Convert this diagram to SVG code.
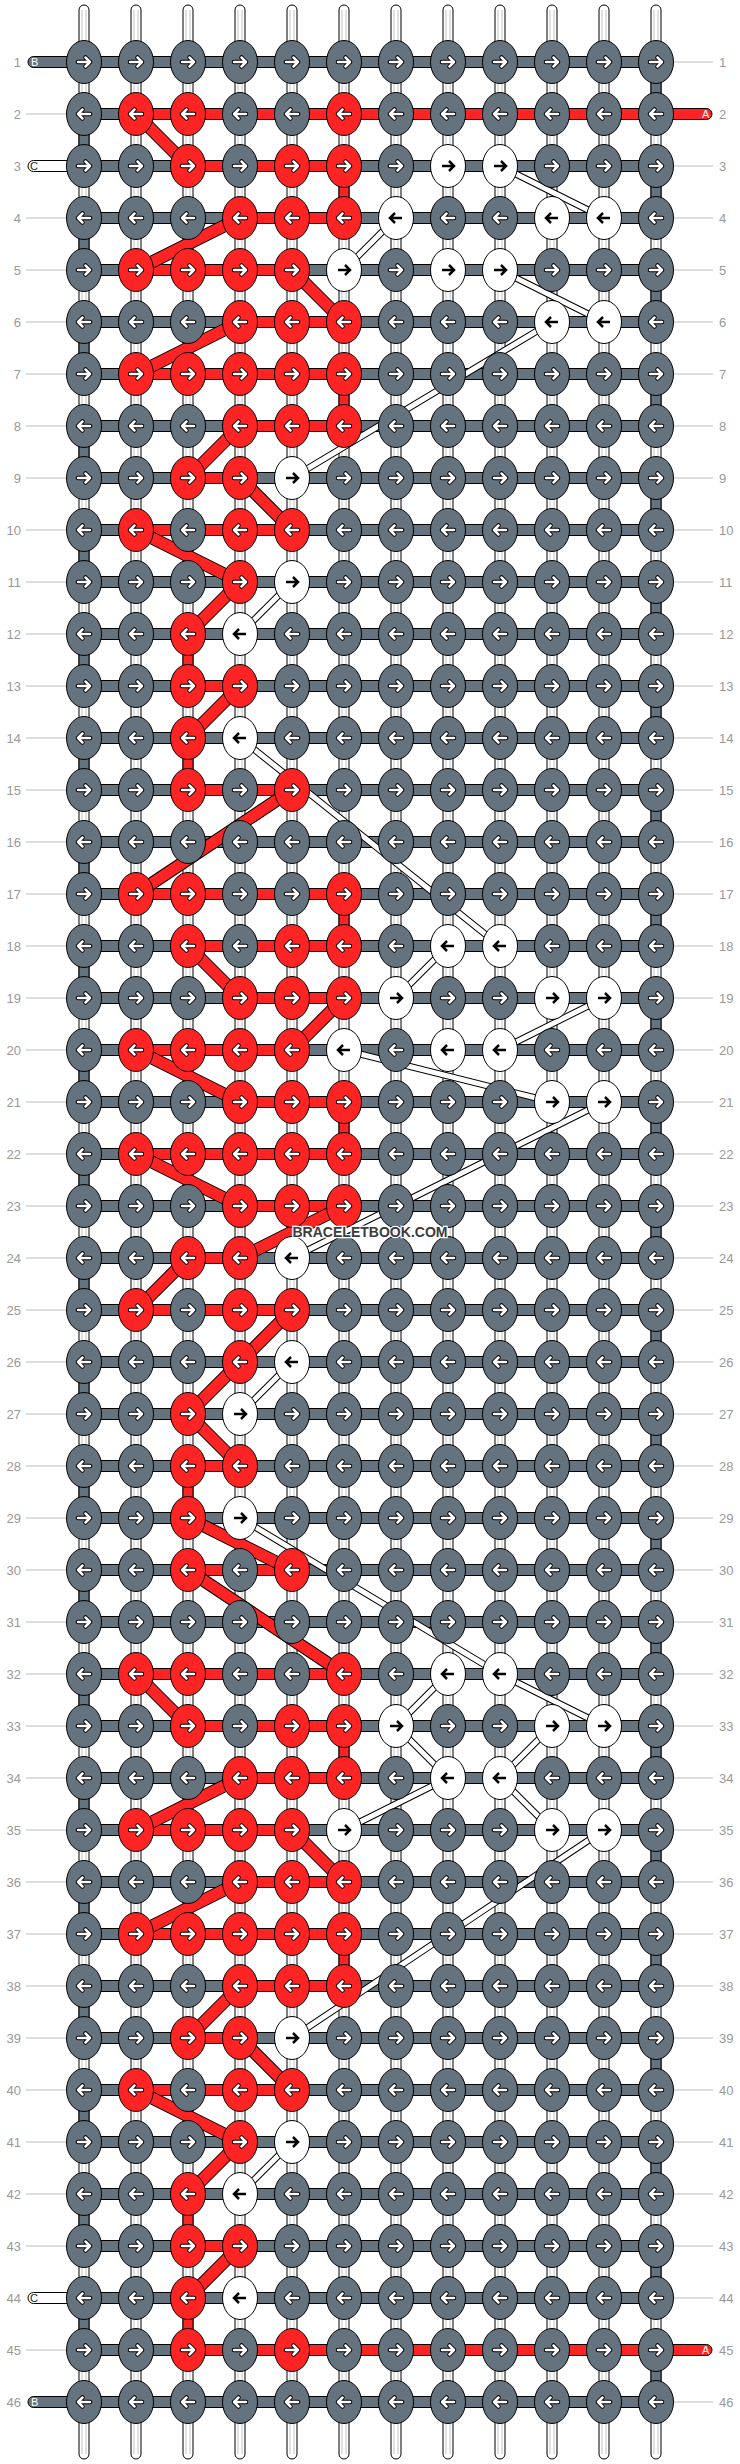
<svg xmlns="http://www.w3.org/2000/svg" xmlns:xlink="http://www.w3.org/1999/xlink" width="740" height="2464" viewBox="0 0 740 2464">
<style>
.g{fill:#65737e;stroke:#000;stroke-width:1}
.r{fill:#ff2424;stroke:#000;stroke-width:1}
.w{fill:#fff;stroke:#000;stroke-width:1}
.tube{fill:#fff;stroke:#000;stroke-width:1}
.tl{stroke:#c4c4c4;stroke-width:1}
.ll{stroke:#bbb;stroke-width:1}
.lab{font-family:"Liberation Sans",Arial,sans-serif;font-size:13px;fill:#999}
.lt{font-family:"Liberation Sans",Arial,sans-serif;font-size:11px}
.dro{fill:none;stroke:#000;stroke-width:13}
.dr{fill:none;stroke:#ff2424;stroke-width:11}
.dwo{fill:none;stroke:#000;stroke-width:7}
.dw{fill:none;stroke:#fff;stroke-width:5}
</style>
<defs>
<g id="aw"><path d="M-6,0H6M1.5,-4.5L6,0L1.5,4.5" fill="none" stroke="#000" stroke-width="4.5" stroke-linecap="round" stroke-linejoin="round"/><path d="M-6,0H6M1.5,-4.5L6,0L1.5,4.5" fill="none" stroke="#fff" stroke-width="2.5" stroke-linecap="round" stroke-linejoin="round"/></g>
<path id="ab" d="M-6,0H6M1,-5L6,0L1,5" fill="none" stroke="#000" stroke-width="2.5"/>
<g id="GR"><ellipse rx="17.5" ry="21.5" class="g"/><use href="#aw"/></g>
<g id="GL"><ellipse rx="17.5" ry="21.5" class="g"/><use href="#aw" transform="scale(-1,1)"/></g>
<g id="RR"><ellipse rx="17.5" ry="21.5" class="r"/><use href="#aw"/></g>
<g id="RL"><ellipse rx="17.5" ry="21.5" class="r"/><use href="#aw" transform="scale(-1,1)"/></g>
<g id="WR"><ellipse rx="17.5" ry="21.5" class="w"/><use href="#ab"/></g>
<g id="WL"><ellipse rx="17.5" ry="21.5" class="w"/><use href="#ab" transform="scale(-1,1)"/></g>
<path id="rdp" d="M136,114L188,166M240,218L136,270M292,270L344,322M240,322L136,374M240,426L188,478M240,478L292,530M136,530L240,582M240,582L188,634M240,686L188,738M292,790L136,894M188,946L240,998M344,998L292,1050M136,1050L240,1102M136,1154L240,1206M344,1206L240,1258M188,1258L136,1310M292,1310L188,1414M188,1414L240,1466M188,1518L292,1570M188,1570L344,1674M136,1674L188,1726M240,1778L136,1830M292,1830L344,1882M240,1882L136,1934M240,1986L188,2038M240,2038L292,2090M136,2090L240,2142M240,2142L188,2194M240,2246L188,2298"/>
<path id="wdp" d="M500,166L604,218M396,218L344,270M500,270L604,322M552,322L292,478M292,582L240,634M240,738L500,946M448,946L396,998M604,998L500,1050M344,1050L552,1102M604,1102L292,1258M292,1362L240,1414M240,1518L500,1674M448,1674L396,1726M500,1674L604,1726M396,1726L448,1778M552,1726L500,1778M448,1778L344,1830M500,1778L552,1830M604,1830L292,2038M292,2142L240,2194"/>
</defs>
<rect width="740" height="2464" fill="#fff"/>
<g id="warps">
<rect class="tube" x="79" y="5" width="10" height="2454" rx="5"/>
<rect class="tube" x="131" y="5" width="10" height="2454" rx="5"/>
<rect class="tube" x="183" y="5" width="10" height="2454" rx="5"/>
<rect class="tube" x="235" y="5" width="10" height="2454" rx="5"/>
<rect class="tube" x="287" y="5" width="10" height="2454" rx="5"/>
<rect class="tube" x="339" y="5" width="10" height="2454" rx="5"/>
<rect class="tube" x="391" y="5" width="10" height="2454" rx="5"/>
<rect class="tube" x="443" y="5" width="10" height="2454" rx="5"/>
<rect class="tube" x="495" y="5" width="10" height="2454" rx="5"/>
<rect class="tube" x="547" y="5" width="10" height="2454" rx="5"/>
<rect class="tube" x="599" y="5" width="10" height="2454" rx="5"/>
<rect class="tube" x="651" y="5" width="10" height="2454" rx="5"/>
<path class="tl" d="M82,10V2454M86,10V2454M134,10V2454M138,10V2454M186,10V2454M190,10V2454M238,10V2454M242,10V2454M290,10V2454M294,10V2454M342,10V2454M346,10V2454M394,10V2454M398,10V2454M446,10V2454M450,10V2454M498,10V2454M502,10V2454M550,10V2454M554,10V2454M602,10V2454M606,10V2454M654,10V2454M658,10V2454"/>
</g>
<g id="labels">
<path class="ll" d="M26,114H66M26,218H66M26,270H66M26,322H66M26,374H66M26,426H66M26,478H66M26,530H66M26,582H66M26,634H66M26,686H66M26,738H66M26,790H66M26,842H66M26,894H66M26,946H66M26,998H66M26,1050H66M26,1102H66M26,1154H66M26,1206H66M26,1258H66M26,1310H66M26,1362H66M26,1414H66M26,1466H66M26,1518H66M26,1570H66M26,1622H66M26,1674H66M26,1726H66M26,1778H66M26,1830H66M26,1882H66M26,1934H66M26,1986H66M26,2038H66M26,2090H66M26,2142H66M26,2194H66M26,2246H66M26,2350H66"/>
<path class="ll" d="M674,62H713M674,166H713M674,218H713M674,270H713M674,322H713M674,374H713M674,426H713M674,478H713M674,530H713M674,582H713M674,634H713M674,686H713M674,738H713M674,790H713M674,842H713M674,894H713M674,946H713M674,998H713M674,1050H713M674,1102H713M674,1154H713M674,1206H713M674,1258H713M674,1310H713M674,1362H713M674,1414H713M674,1466H713M674,1518H713M674,1570H713M674,1622H713M674,1674H713M674,1726H713M674,1778H713M674,1830H713M674,1882H713M674,1934H713M674,1986H713M674,2038H713M674,2090H713M674,2142H713M674,2194H713M674,2246H713M674,2298H713M674,2402H713"/>
<g class="lab" text-anchor="end">
<text x="21" y="66.5">1</text><text x="21" y="118.5">2</text><text x="21" y="170.5">3</text><text x="21" y="222.5">4</text><text x="21" y="274.5">5</text><text x="21" y="326.5">6</text><text x="21" y="378.5">7</text><text x="21" y="430.5">8</text><text x="21" y="482.5">9</text><text x="21" y="534.5">10</text><text x="21" y="586.5">11</text><text x="21" y="638.5">12</text><text x="21" y="690.5">13</text><text x="21" y="742.5">14</text><text x="21" y="794.5">15</text><text x="21" y="846.5">16</text><text x="21" y="898.5">17</text><text x="21" y="950.5">18</text><text x="21" y="1002.5">19</text><text x="21" y="1054.5">20</text><text x="21" y="1106.5">21</text><text x="21" y="1158.5">22</text><text x="21" y="1210.5">23</text><text x="21" y="1262.5">24</text><text x="21" y="1314.5">25</text><text x="21" y="1366.5">26</text><text x="21" y="1418.5">27</text><text x="21" y="1470.5">28</text><text x="21" y="1522.5">29</text><text x="21" y="1574.5">30</text><text x="21" y="1626.5">31</text><text x="21" y="1678.5">32</text><text x="21" y="1730.5">33</text><text x="21" y="1782.5">34</text><text x="21" y="1834.5">35</text><text x="21" y="1886.5">36</text><text x="21" y="1938.5">37</text><text x="21" y="1990.5">38</text><text x="21" y="2042.5">39</text><text x="21" y="2094.5">40</text><text x="21" y="2146.5">41</text><text x="21" y="2198.5">42</text><text x="21" y="2250.5">43</text><text x="21" y="2302.5">44</text><text x="21" y="2354.5">45</text><text x="21" y="2406.5">46</text>
</g>
<g class="lab">
<text x="719" y="66.5">1</text><text x="719" y="118.5">2</text><text x="719" y="170.5">3</text><text x="719" y="222.5">4</text><text x="719" y="274.5">5</text><text x="719" y="326.5">6</text><text x="719" y="378.5">7</text><text x="719" y="430.5">8</text><text x="719" y="482.5">9</text><text x="719" y="534.5">10</text><text x="719" y="586.5">11</text><text x="719" y="638.5">12</text><text x="719" y="690.5">13</text><text x="719" y="742.5">14</text><text x="719" y="794.5">15</text><text x="719" y="846.5">16</text><text x="719" y="898.5">17</text><text x="719" y="950.5">18</text><text x="719" y="1002.5">19</text><text x="719" y="1054.5">20</text><text x="719" y="1106.5">21</text><text x="719" y="1158.5">22</text><text x="719" y="1210.5">23</text><text x="719" y="1262.5">24</text><text x="719" y="1314.5">25</text><text x="719" y="1366.5">26</text><text x="719" y="1418.5">27</text><text x="719" y="1470.5">28</text><text x="719" y="1522.5">29</text><text x="719" y="1574.5">30</text><text x="719" y="1626.5">31</text><text x="719" y="1678.5">32</text><text x="719" y="1730.5">33</text><text x="719" y="1782.5">34</text><text x="719" y="1834.5">35</text><text x="719" y="1886.5">36</text><text x="719" y="1938.5">37</text><text x="719" y="1990.5">38</text><text x="719" y="2042.5">39</text><text x="719" y="2094.5">40</text><text x="719" y="2146.5">41</text><text x="719" y="2198.5">42</text><text x="719" y="2250.5">43</text><text x="719" y="2302.5">44</text><text x="719" y="2354.5">45</text><text x="719" y="2406.5">46</text>
</g>
</g>
<g id="connectors">
<g id="rowbars" class="g">
<rect x="84" y="56.5" width="572" height="11"/><rect x="84" y="108.5" width="572" height="11"/><rect x="84" y="160.5" width="572" height="11"/><rect x="84" y="212.5" width="572" height="11"/><rect x="84" y="264.5" width="572" height="11"/><rect x="84" y="316.5" width="572" height="11"/><rect x="84" y="368.5" width="572" height="11"/><rect x="84" y="420.5" width="572" height="11"/><rect x="84" y="472.5" width="572" height="11"/><rect x="84" y="524.5" width="572" height="11"/><rect x="84" y="576.5" width="572" height="11"/><rect x="84" y="628.5" width="572" height="11"/><rect x="84" y="680.5" width="572" height="11"/><rect x="84" y="732.5" width="572" height="11"/><rect x="84" y="784.5" width="572" height="11"/><rect x="84" y="836.5" width="572" height="11"/><rect x="84" y="888.5" width="572" height="11"/><rect x="84" y="940.5" width="572" height="11"/><rect x="84" y="992.5" width="572" height="11"/><rect x="84" y="1044.5" width="572" height="11"/><rect x="84" y="1096.5" width="572" height="11"/><rect x="84" y="1148.5" width="572" height="11"/><rect x="84" y="1200.5" width="572" height="11"/><rect x="84" y="1252.5" width="572" height="11"/><rect x="84" y="1304.5" width="572" height="11"/><rect x="84" y="1356.5" width="572" height="11"/><rect x="84" y="1408.5" width="572" height="11"/><rect x="84" y="1460.5" width="572" height="11"/><rect x="84" y="1512.5" width="572" height="11"/><rect x="84" y="1564.5" width="572" height="11"/><rect x="84" y="1616.5" width="572" height="11"/><rect x="84" y="1668.5" width="572" height="11"/><rect x="84" y="1720.5" width="572" height="11"/><rect x="84" y="1772.5" width="572" height="11"/><rect x="84" y="1824.5" width="572" height="11"/><rect x="84" y="1876.5" width="572" height="11"/><rect x="84" y="1928.5" width="572" height="11"/><rect x="84" y="1980.5" width="572" height="11"/><rect x="84" y="2032.5" width="572" height="11"/><rect x="84" y="2084.5" width="572" height="11"/><rect x="84" y="2136.5" width="572" height="11"/><rect x="84" y="2188.5" width="572" height="11"/><rect x="84" y="2240.5" width="572" height="11"/><rect x="84" y="2292.5" width="572" height="11"/><rect x="84" y="2344.5" width="572" height="11"/><rect x="84" y="2396.5" width="572" height="11"/>
<path d="M84,56.5H33.5A5.5,5.5 0 0 0 33.5,67.5H84Z"/>
<path d="M84,2396.5H33.5A5.5,5.5 0 0 0 33.5,2407.5H84Z"/>
</g>
<g class="w">
<path d="M84,160.5H33.5A5.5,5.5 0 0 0 33.5,171.5H84Z"/>
<path d="M84,2292.5H33.5A5.5,5.5 0 0 0 33.5,2303.5H84Z"/>
</g>
<g id="redbars" class="r">
<path d="M136,108.5H706.5A5.5,5.5 0 0 1 706.5,119.5H136Z"/>
<path d="M188,2344.5H706.5A5.5,5.5 0 0 1 706.5,2355.5H188Z"/>
<rect x="188" y="160.5" width="156" height="11"/><rect x="240" y="212.5" width="104" height="11"/><rect x="136" y="264.5" width="156" height="11"/><rect x="240" y="316.5" width="104" height="11"/><rect x="136" y="368.5" width="208" height="11"/><rect x="240" y="420.5" width="104" height="11"/><rect x="188" y="472.5" width="52" height="11"/><rect x="136" y="524.5" width="156" height="11"/><rect x="188" y="680.5" width="52" height="11"/><rect x="188" y="784.5" width="104" height="11"/>
<rect x="136" y="888.5" width="208" height="11"/><rect x="188" y="940.5" width="156" height="11"/><rect x="240" y="992.5" width="104" height="11"/><rect x="136" y="1044.5" width="156" height="11"/><rect x="240" y="1096.5" width="104" height="11"/><rect x="136" y="1148.5" width="208" height="11"/><rect x="240" y="1200.5" width="104" height="11"/><rect x="188" y="1252.5" width="52" height="11"/><rect x="136" y="1304.5" width="156" height="11"/><rect x="188" y="1460.5" width="52" height="11"/><rect x="188" y="1564.5" width="104" height="11"/>
<rect x="136" y="1668.5" width="208" height="11"/><rect x="188" y="1720.5" width="156" height="11"/><rect x="240" y="1772.5" width="104" height="11"/><rect x="136" y="1824.5" width="156" height="11"/><rect x="240" y="1876.5" width="104" height="11"/><rect x="136" y="1928.5" width="208" height="11"/><rect x="240" y="1980.5" width="104" height="11"/><rect x="188" y="2032.5" width="52" height="11"/><rect x="136" y="2084.5" width="156" height="11"/><rect x="188" y="2240.5" width="52" height="11"/>
</g>
<g id="edgeverticals" class="g">
<rect x="651" y="77" width="10" height="22"/><rect x="651" y="181" width="10" height="22"/><rect x="651" y="285" width="10" height="22"/><rect x="651" y="389" width="10" height="22"/><rect x="651" y="493" width="10" height="22"/><rect x="651" y="597" width="10" height="22"/><rect x="651" y="701" width="10" height="22"/><rect x="651" y="805" width="10" height="22"/><rect x="651" y="909" width="10" height="22"/><rect x="651" y="1013" width="10" height="22"/><rect x="651" y="1117" width="10" height="22"/><rect x="651" y="1221" width="10" height="22"/><rect x="651" y="1325" width="10" height="22"/><rect x="651" y="1429" width="10" height="22"/><rect x="651" y="1533" width="10" height="22"/><rect x="651" y="1637" width="10" height="22"/><rect x="651" y="1741" width="10" height="22"/><rect x="651" y="1845" width="10" height="22"/><rect x="651" y="1949" width="10" height="22"/><rect x="651" y="2053" width="10" height="22"/><rect x="651" y="2157" width="10" height="22"/><rect x="651" y="2261" width="10" height="22"/><rect x="651" y="2365" width="10" height="22"/>
<rect x="79" y="129" width="10" height="22"/><rect x="79" y="233" width="10" height="22"/><rect x="79" y="337" width="10" height="22"/><rect x="79" y="441" width="10" height="22"/><rect x="79" y="545" width="10" height="22"/><rect x="79" y="649" width="10" height="22"/><rect x="79" y="753" width="10" height="22"/><rect x="79" y="857" width="10" height="22"/><rect x="79" y="961" width="10" height="22"/><rect x="79" y="1065" width="10" height="22"/><rect x="79" y="1169" width="10" height="22"/><rect x="79" y="1273" width="10" height="22"/><rect x="79" y="1377" width="10" height="22"/><rect x="79" y="1481" width="10" height="22"/><rect x="79" y="1585" width="10" height="22"/><rect x="79" y="1689" width="10" height="22"/><rect x="79" y="1793" width="10" height="22"/><rect x="79" y="1897" width="10" height="22"/><rect x="79" y="2001" width="10" height="22"/><rect x="79" y="2105" width="10" height="22"/><rect x="79" y="2209" width="10" height="22"/><rect x="79" y="2313" width="10" height="22"/>
</g>
<g id="redverticals" class="r">
<rect x="339" y="181" width="10" height="22"/><rect x="339" y="389" width="10" height="22"/><rect x="183" y="649" width="10" height="22"/><rect x="183" y="753" width="10" height="22"/><rect x="339" y="909" width="10" height="22"/><rect x="339" y="1117" width="10" height="22"/><rect x="183" y="1481" width="10" height="22"/><rect x="339" y="1741" width="10" height="22"/><rect x="339" y="1949" width="10" height="22"/><rect x="183" y="2209" width="10" height="22"/><rect x="183" y="2313" width="10" height="22"/>
</g>
<g id="reddiagonals">
<use href="#rdp" class="dro"/>
<use href="#rdp" class="dr"/>
</g>
<g id="whitediagonals">
<use href="#wdp" class="dwo"/>
<use href="#wdp" class="dw"/>
</g>
</g>
<g id="edgelabels" class="lt">
<text x="31" y="66" fill="#fff">B</text>
<text x="31" y="2406" fill="#fff">B</text>
<text x="30" y="170" fill="#222">C</text>
<text x="30" y="2302" fill="#222">C</text>
<text x="702" y="118" fill="#fff">A</text>
<text x="702" y="2354" fill="#fff">A</text>
</g>
<g id="knots">
<g id="n1-1"><use href="#GR" x="84" y="62"/></g><g id="n1-2"><use href="#GR" x="136" y="62"/></g><g id="n1-3"><use href="#GR" x="188" y="62"/></g><g id="n1-4"><use href="#GR" x="240" y="62"/></g><g id="n1-5"><use href="#GR" x="292" y="62"/></g><g id="n1-6"><use href="#GR" x="344" y="62"/></g><g id="n1-7"><use href="#GR" x="396" y="62"/></g><g id="n1-8"><use href="#GR" x="448" y="62"/></g><g id="n1-9"><use href="#GR" x="500" y="62"/></g><g id="n1-10"><use href="#GR" x="552" y="62"/></g><g id="n1-11"><use href="#GR" x="604" y="62"/></g><g id="n1-12"><use href="#GR" x="656" y="62"/></g>
<g id="n2-1"><use href="#GL" x="84" y="114"/></g><g id="n2-2"><use href="#RL" x="136" y="114"/></g><g id="n2-3"><use href="#RL" x="188" y="114"/></g><g id="n2-4"><use href="#GL" x="240" y="114"/></g><g id="n2-5"><use href="#GL" x="292" y="114"/></g><g id="n2-6"><use href="#RL" x="344" y="114"/></g><g id="n2-7"><use href="#GL" x="396" y="114"/></g><g id="n2-8"><use href="#GL" x="448" y="114"/></g><g id="n2-9"><use href="#GL" x="500" y="114"/></g><g id="n2-10"><use href="#GL" x="552" y="114"/></g><g id="n2-11"><use href="#GL" x="604" y="114"/></g><g id="n2-12"><use href="#GL" x="656" y="114"/></g>
<g id="n3-1"><use href="#GR" x="84" y="166"/></g><g id="n3-2"><use href="#GR" x="136" y="166"/></g><g id="n3-3"><use href="#RR" x="188" y="166"/></g><g id="n3-4"><use href="#GR" x="240" y="166"/></g><g id="n3-5"><use href="#RR" x="292" y="166"/></g><g id="n3-6"><use href="#RR" x="344" y="166"/></g><g id="n3-7"><use href="#GR" x="396" y="166"/></g><g id="n3-8"><use href="#WR" x="448" y="166"/></g><g id="n3-9"><use href="#WR" x="500" y="166"/></g><g id="n3-10"><use href="#GR" x="552" y="166"/></g><g id="n3-11"><use href="#GR" x="604" y="166"/></g><g id="n3-12"><use href="#GR" x="656" y="166"/></g>
<g id="n4-1"><use href="#GL" x="84" y="218"/></g><g id="n4-2"><use href="#GL" x="136" y="218"/></g><g id="n4-3"><use href="#GL" x="188" y="218"/></g><g id="n4-4"><use href="#RL" x="240" y="218"/></g><g id="n4-5"><use href="#RL" x="292" y="218"/></g><g id="n4-6"><use href="#RL" x="344" y="218"/></g><g id="n4-7"><use href="#WL" x="396" y="218"/></g><g id="n4-8"><use href="#GL" x="448" y="218"/></g><g id="n4-9"><use href="#GL" x="500" y="218"/></g><g id="n4-10"><use href="#WL" x="552" y="218"/></g><g id="n4-11"><use href="#WL" x="604" y="218"/></g><g id="n4-12"><use href="#GL" x="656" y="218"/></g>
<g id="n5-1"><use href="#GR" x="84" y="270"/></g><g id="n5-2"><use href="#RR" x="136" y="270"/></g><g id="n5-3"><use href="#RR" x="188" y="270"/></g><g id="n5-4"><use href="#RR" x="240" y="270"/></g><g id="n5-5"><use href="#RR" x="292" y="270"/></g><g id="n5-6"><use href="#WR" x="344" y="270"/></g><g id="n5-7"><use href="#GR" x="396" y="270"/></g><g id="n5-8"><use href="#WR" x="448" y="270"/></g><g id="n5-9"><use href="#WR" x="500" y="270"/></g><g id="n5-10"><use href="#GR" x="552" y="270"/></g><g id="n5-11"><use href="#GR" x="604" y="270"/></g><g id="n5-12"><use href="#GR" x="656" y="270"/></g>
<g id="n6-1"><use href="#GL" x="84" y="322"/></g><g id="n6-2"><use href="#GL" x="136" y="322"/></g><g id="n6-3"><use href="#GL" x="188" y="322"/></g><g id="n6-4"><use href="#RL" x="240" y="322"/></g><g id="n6-5"><use href="#RL" x="292" y="322"/></g><g id="n6-6"><use href="#RL" x="344" y="322"/></g><g id="n6-7"><use href="#GL" x="396" y="322"/></g><g id="n6-8"><use href="#GL" x="448" y="322"/></g><g id="n6-9"><use href="#GL" x="500" y="322"/></g><g id="n6-10"><use href="#WL" x="552" y="322"/></g><g id="n6-11"><use href="#WL" x="604" y="322"/></g><g id="n6-12"><use href="#GL" x="656" y="322"/></g>
<g id="n7-1"><use href="#GR" x="84" y="374"/></g><g id="n7-2"><use href="#RR" x="136" y="374"/></g><g id="n7-3"><use href="#RR" x="188" y="374"/></g><g id="n7-4"><use href="#RR" x="240" y="374"/></g><g id="n7-5"><use href="#RR" x="292" y="374"/></g><g id="n7-6"><use href="#RR" x="344" y="374"/></g><g id="n7-7"><use href="#GR" x="396" y="374"/></g><g id="n7-8"><use href="#GR" x="448" y="374"/></g><g id="n7-9"><use href="#GR" x="500" y="374"/></g><g id="n7-10"><use href="#GR" x="552" y="374"/></g><g id="n7-11"><use href="#GR" x="604" y="374"/></g><g id="n7-12"><use href="#GR" x="656" y="374"/></g>
<g id="n8-1"><use href="#GL" x="84" y="426"/></g><g id="n8-2"><use href="#GL" x="136" y="426"/></g><g id="n8-3"><use href="#GL" x="188" y="426"/></g><g id="n8-4"><use href="#RL" x="240" y="426"/></g><g id="n8-5"><use href="#RL" x="292" y="426"/></g><g id="n8-6"><use href="#RL" x="344" y="426"/></g><g id="n8-7"><use href="#GL" x="396" y="426"/></g><g id="n8-8"><use href="#GL" x="448" y="426"/></g><g id="n8-9"><use href="#GL" x="500" y="426"/></g><g id="n8-10"><use href="#GL" x="552" y="426"/></g><g id="n8-11"><use href="#GL" x="604" y="426"/></g><g id="n8-12"><use href="#GL" x="656" y="426"/></g>
<g id="n9-1"><use href="#GR" x="84" y="478"/></g><g id="n9-2"><use href="#GR" x="136" y="478"/></g><g id="n9-3"><use href="#RR" x="188" y="478"/></g><g id="n9-4"><use href="#RR" x="240" y="478"/></g><g id="n9-5"><use href="#WR" x="292" y="478"/></g><g id="n9-6"><use href="#GR" x="344" y="478"/></g><g id="n9-7"><use href="#GR" x="396" y="478"/></g><g id="n9-8"><use href="#GR" x="448" y="478"/></g><g id="n9-9"><use href="#GR" x="500" y="478"/></g><g id="n9-10"><use href="#GR" x="552" y="478"/></g><g id="n9-11"><use href="#GR" x="604" y="478"/></g><g id="n9-12"><use href="#GR" x="656" y="478"/></g>
<g id="n10-1"><use href="#GL" x="84" y="530"/></g><g id="n10-2"><use href="#RL" x="136" y="530"/></g><g id="n10-3"><use href="#GL" x="188" y="530"/></g><g id="n10-4"><use href="#RL" x="240" y="530"/></g><g id="n10-5"><use href="#RL" x="292" y="530"/></g><g id="n10-6"><use href="#GL" x="344" y="530"/></g><g id="n10-7"><use href="#GL" x="396" y="530"/></g><g id="n10-8"><use href="#GL" x="448" y="530"/></g><g id="n10-9"><use href="#GL" x="500" y="530"/></g><g id="n10-10"><use href="#GL" x="552" y="530"/></g><g id="n10-11"><use href="#GL" x="604" y="530"/></g><g id="n10-12"><use href="#GL" x="656" y="530"/></g>
<g id="n11-1"><use href="#GR" x="84" y="582"/></g><g id="n11-2"><use href="#GR" x="136" y="582"/></g><g id="n11-3"><use href="#GR" x="188" y="582"/></g><g id="n11-4"><use href="#RR" x="240" y="582"/></g><g id="n11-5"><use href="#WR" x="292" y="582"/></g><g id="n11-6"><use href="#GR" x="344" y="582"/></g><g id="n11-7"><use href="#GR" x="396" y="582"/></g><g id="n11-8"><use href="#GR" x="448" y="582"/></g><g id="n11-9"><use href="#GR" x="500" y="582"/></g><g id="n11-10"><use href="#GR" x="552" y="582"/></g><g id="n11-11"><use href="#GR" x="604" y="582"/></g><g id="n11-12"><use href="#GR" x="656" y="582"/></g>
<g id="n12-1"><use href="#GL" x="84" y="634"/></g><g id="n12-2"><use href="#GL" x="136" y="634"/></g><g id="n12-3"><use href="#RL" x="188" y="634"/></g><g id="n12-4"><use href="#WL" x="240" y="634"/></g><g id="n12-5"><use href="#GL" x="292" y="634"/></g><g id="n12-6"><use href="#GL" x="344" y="634"/></g><g id="n12-7"><use href="#GL" x="396" y="634"/></g><g id="n12-8"><use href="#GL" x="448" y="634"/></g><g id="n12-9"><use href="#GL" x="500" y="634"/></g><g id="n12-10"><use href="#GL" x="552" y="634"/></g><g id="n12-11"><use href="#GL" x="604" y="634"/></g><g id="n12-12"><use href="#GL" x="656" y="634"/></g>
<g id="n13-1"><use href="#GR" x="84" y="686"/></g><g id="n13-2"><use href="#GR" x="136" y="686"/></g><g id="n13-3"><use href="#RR" x="188" y="686"/></g><g id="n13-4"><use href="#RR" x="240" y="686"/></g><g id="n13-5"><use href="#GR" x="292" y="686"/></g><g id="n13-6"><use href="#GR" x="344" y="686"/></g><g id="n13-7"><use href="#GR" x="396" y="686"/></g><g id="n13-8"><use href="#GR" x="448" y="686"/></g><g id="n13-9"><use href="#GR" x="500" y="686"/></g><g id="n13-10"><use href="#GR" x="552" y="686"/></g><g id="n13-11"><use href="#GR" x="604" y="686"/></g><g id="n13-12"><use href="#GR" x="656" y="686"/></g>
<g id="n14-1"><use href="#GL" x="84" y="738"/></g><g id="n14-2"><use href="#GL" x="136" y="738"/></g><g id="n14-3"><use href="#RL" x="188" y="738"/></g><g id="n14-4"><use href="#WL" x="240" y="738"/></g><g id="n14-5"><use href="#GL" x="292" y="738"/></g><g id="n14-6"><use href="#GL" x="344" y="738"/></g><g id="n14-7"><use href="#GL" x="396" y="738"/></g><g id="n14-8"><use href="#GL" x="448" y="738"/></g><g id="n14-9"><use href="#GL" x="500" y="738"/></g><g id="n14-10"><use href="#GL" x="552" y="738"/></g><g id="n14-11"><use href="#GL" x="604" y="738"/></g><g id="n14-12"><use href="#GL" x="656" y="738"/></g>
<g id="n15-1"><use href="#GR" x="84" y="790"/></g><g id="n15-2"><use href="#GR" x="136" y="790"/></g><g id="n15-3"><use href="#RR" x="188" y="790"/></g><g id="n15-4"><use href="#GR" x="240" y="790"/></g><g id="n15-5"><use href="#RR" x="292" y="790"/></g><g id="n15-6"><use href="#GR" x="344" y="790"/></g><g id="n15-7"><use href="#GR" x="396" y="790"/></g><g id="n15-8"><use href="#GR" x="448" y="790"/></g><g id="n15-9"><use href="#GR" x="500" y="790"/></g><g id="n15-10"><use href="#GR" x="552" y="790"/></g><g id="n15-11"><use href="#GR" x="604" y="790"/></g><g id="n15-12"><use href="#GR" x="656" y="790"/></g>
<g id="n16-1"><use href="#GL" x="84" y="842"/></g><g id="n16-2"><use href="#GL" x="136" y="842"/></g><g id="n16-3"><use href="#GL" x="188" y="842"/></g><g id="n16-4"><use href="#GL" x="240" y="842"/></g><g id="n16-5"><use href="#GL" x="292" y="842"/></g><g id="n16-6"><use href="#GL" x="344" y="842"/></g><g id="n16-7"><use href="#GL" x="396" y="842"/></g><g id="n16-8"><use href="#GL" x="448" y="842"/></g><g id="n16-9"><use href="#GL" x="500" y="842"/></g><g id="n16-10"><use href="#GL" x="552" y="842"/></g><g id="n16-11"><use href="#GL" x="604" y="842"/></g><g id="n16-12"><use href="#GL" x="656" y="842"/></g>
<g id="n17-1"><use href="#GR" x="84" y="894"/></g><g id="n17-2"><use href="#RR" x="136" y="894"/></g><g id="n17-3"><use href="#RR" x="188" y="894"/></g><g id="n17-4"><use href="#GR" x="240" y="894"/></g><g id="n17-5"><use href="#GR" x="292" y="894"/></g><g id="n17-6"><use href="#RR" x="344" y="894"/></g><g id="n17-7"><use href="#GR" x="396" y="894"/></g><g id="n17-8"><use href="#GR" x="448" y="894"/></g><g id="n17-9"><use href="#GR" x="500" y="894"/></g><g id="n17-10"><use href="#GR" x="552" y="894"/></g><g id="n17-11"><use href="#GR" x="604" y="894"/></g><g id="n17-12"><use href="#GR" x="656" y="894"/></g>
<g id="n18-1"><use href="#GL" x="84" y="946"/></g><g id="n18-2"><use href="#GL" x="136" y="946"/></g><g id="n18-3"><use href="#RL" x="188" y="946"/></g><g id="n18-4"><use href="#GL" x="240" y="946"/></g><g id="n18-5"><use href="#RL" x="292" y="946"/></g><g id="n18-6"><use href="#RL" x="344" y="946"/></g><g id="n18-7"><use href="#GL" x="396" y="946"/></g><g id="n18-8"><use href="#WL" x="448" y="946"/></g><g id="n18-9"><use href="#WL" x="500" y="946"/></g><g id="n18-10"><use href="#GL" x="552" y="946"/></g><g id="n18-11"><use href="#GL" x="604" y="946"/></g><g id="n18-12"><use href="#GL" x="656" y="946"/></g>
<g id="n19-1"><use href="#GR" x="84" y="998"/></g><g id="n19-2"><use href="#GR" x="136" y="998"/></g><g id="n19-3"><use href="#GR" x="188" y="998"/></g><g id="n19-4"><use href="#RR" x="240" y="998"/></g><g id="n19-5"><use href="#RR" x="292" y="998"/></g><g id="n19-6"><use href="#RR" x="344" y="998"/></g><g id="n19-7"><use href="#WR" x="396" y="998"/></g><g id="n19-8"><use href="#GR" x="448" y="998"/></g><g id="n19-9"><use href="#GR" x="500" y="998"/></g><g id="n19-10"><use href="#WR" x="552" y="998"/></g><g id="n19-11"><use href="#WR" x="604" y="998"/></g><g id="n19-12"><use href="#GR" x="656" y="998"/></g>
<g id="n20-1"><use href="#GL" x="84" y="1050"/></g><g id="n20-2"><use href="#RL" x="136" y="1050"/></g><g id="n20-3"><use href="#RL" x="188" y="1050"/></g><g id="n20-4"><use href="#RL" x="240" y="1050"/></g><g id="n20-5"><use href="#RL" x="292" y="1050"/></g><g id="n20-6"><use href="#WL" x="344" y="1050"/></g><g id="n20-7"><use href="#GL" x="396" y="1050"/></g><g id="n20-8"><use href="#WL" x="448" y="1050"/></g><g id="n20-9"><use href="#WL" x="500" y="1050"/></g><g id="n20-10"><use href="#GL" x="552" y="1050"/></g><g id="n20-11"><use href="#GL" x="604" y="1050"/></g><g id="n20-12"><use href="#GL" x="656" y="1050"/></g>
<g id="n21-1"><use href="#GR" x="84" y="1102"/></g><g id="n21-2"><use href="#GR" x="136" y="1102"/></g><g id="n21-3"><use href="#GR" x="188" y="1102"/></g><g id="n21-4"><use href="#RR" x="240" y="1102"/></g><g id="n21-5"><use href="#RR" x="292" y="1102"/></g><g id="n21-6"><use href="#RR" x="344" y="1102"/></g><g id="n21-7"><use href="#GR" x="396" y="1102"/></g><g id="n21-8"><use href="#GR" x="448" y="1102"/></g><g id="n21-9"><use href="#GR" x="500" y="1102"/></g><g id="n21-10"><use href="#WR" x="552" y="1102"/></g><g id="n21-11"><use href="#WR" x="604" y="1102"/></g><g id="n21-12"><use href="#GR" x="656" y="1102"/></g>
<g id="n22-1"><use href="#GL" x="84" y="1154"/></g><g id="n22-2"><use href="#RL" x="136" y="1154"/></g><g id="n22-3"><use href="#RL" x="188" y="1154"/></g><g id="n22-4"><use href="#RL" x="240" y="1154"/></g><g id="n22-5"><use href="#RL" x="292" y="1154"/></g><g id="n22-6"><use href="#RL" x="344" y="1154"/></g><g id="n22-7"><use href="#GL" x="396" y="1154"/></g><g id="n22-8"><use href="#GL" x="448" y="1154"/></g><g id="n22-9"><use href="#GL" x="500" y="1154"/></g><g id="n22-10"><use href="#GL" x="552" y="1154"/></g><g id="n22-11"><use href="#GL" x="604" y="1154"/></g><g id="n22-12"><use href="#GL" x="656" y="1154"/></g>
<g id="n23-1"><use href="#GR" x="84" y="1206"/></g><g id="n23-2"><use href="#GR" x="136" y="1206"/></g><g id="n23-3"><use href="#GR" x="188" y="1206"/></g><g id="n23-4"><use href="#RR" x="240" y="1206"/></g><g id="n23-5"><use href="#RR" x="292" y="1206"/></g><g id="n23-6"><use href="#RR" x="344" y="1206"/></g><g id="n23-7"><use href="#GR" x="396" y="1206"/></g><g id="n23-8"><use href="#GR" x="448" y="1206"/></g><g id="n23-9"><use href="#GR" x="500" y="1206"/></g><g id="n23-10"><use href="#GR" x="552" y="1206"/></g><g id="n23-11"><use href="#GR" x="604" y="1206"/></g><g id="n23-12"><use href="#GR" x="656" y="1206"/></g>
<g id="n24-1"><use href="#GL" x="84" y="1258"/></g><g id="n24-2"><use href="#GL" x="136" y="1258"/></g><g id="n24-3"><use href="#RL" x="188" y="1258"/></g><g id="n24-4"><use href="#RL" x="240" y="1258"/></g><g id="n24-5"><use href="#WL" x="292" y="1258"/></g><g id="n24-6"><use href="#GL" x="344" y="1258"/></g><g id="n24-7"><use href="#GL" x="396" y="1258"/></g><g id="n24-8"><use href="#GL" x="448" y="1258"/></g><g id="n24-9"><use href="#GL" x="500" y="1258"/></g><g id="n24-10"><use href="#GL" x="552" y="1258"/></g><g id="n24-11"><use href="#GL" x="604" y="1258"/></g><g id="n24-12"><use href="#GL" x="656" y="1258"/></g>
<g id="n25-1"><use href="#GR" x="84" y="1310"/></g><g id="n25-2"><use href="#RR" x="136" y="1310"/></g><g id="n25-3"><use href="#GR" x="188" y="1310"/></g><g id="n25-4"><use href="#RR" x="240" y="1310"/></g><g id="n25-5"><use href="#RR" x="292" y="1310"/></g><g id="n25-6"><use href="#GR" x="344" y="1310"/></g><g id="n25-7"><use href="#GR" x="396" y="1310"/></g><g id="n25-8"><use href="#GR" x="448" y="1310"/></g><g id="n25-9"><use href="#GR" x="500" y="1310"/></g><g id="n25-10"><use href="#GR" x="552" y="1310"/></g><g id="n25-11"><use href="#GR" x="604" y="1310"/></g><g id="n25-12"><use href="#GR" x="656" y="1310"/></g>
<g id="n26-1"><use href="#GL" x="84" y="1362"/></g><g id="n26-2"><use href="#GL" x="136" y="1362"/></g><g id="n26-3"><use href="#GL" x="188" y="1362"/></g><g id="n26-4"><use href="#RL" x="240" y="1362"/></g><g id="n26-5"><use href="#WL" x="292" y="1362"/></g><g id="n26-6"><use href="#GL" x="344" y="1362"/></g><g id="n26-7"><use href="#GL" x="396" y="1362"/></g><g id="n26-8"><use href="#GL" x="448" y="1362"/></g><g id="n26-9"><use href="#GL" x="500" y="1362"/></g><g id="n26-10"><use href="#GL" x="552" y="1362"/></g><g id="n26-11"><use href="#GL" x="604" y="1362"/></g><g id="n26-12"><use href="#GL" x="656" y="1362"/></g>
<g id="n27-1"><use href="#GR" x="84" y="1414"/></g><g id="n27-2"><use href="#GR" x="136" y="1414"/></g><g id="n27-3"><use href="#RR" x="188" y="1414"/></g><g id="n27-4"><use href="#WR" x="240" y="1414"/></g><g id="n27-5"><use href="#GR" x="292" y="1414"/></g><g id="n27-6"><use href="#GR" x="344" y="1414"/></g><g id="n27-7"><use href="#GR" x="396" y="1414"/></g><g id="n27-8"><use href="#GR" x="448" y="1414"/></g><g id="n27-9"><use href="#GR" x="500" y="1414"/></g><g id="n27-10"><use href="#GR" x="552" y="1414"/></g><g id="n27-11"><use href="#GR" x="604" y="1414"/></g><g id="n27-12"><use href="#GR" x="656" y="1414"/></g>
<g id="n28-1"><use href="#GL" x="84" y="1466"/></g><g id="n28-2"><use href="#GL" x="136" y="1466"/></g><g id="n28-3"><use href="#RL" x="188" y="1466"/></g><g id="n28-4"><use href="#RL" x="240" y="1466"/></g><g id="n28-5"><use href="#GL" x="292" y="1466"/></g><g id="n28-6"><use href="#GL" x="344" y="1466"/></g><g id="n28-7"><use href="#GL" x="396" y="1466"/></g><g id="n28-8"><use href="#GL" x="448" y="1466"/></g><g id="n28-9"><use href="#GL" x="500" y="1466"/></g><g id="n28-10"><use href="#GL" x="552" y="1466"/></g><g id="n28-11"><use href="#GL" x="604" y="1466"/></g><g id="n28-12"><use href="#GL" x="656" y="1466"/></g>
<g id="n29-1"><use href="#GR" x="84" y="1518"/></g><g id="n29-2"><use href="#GR" x="136" y="1518"/></g><g id="n29-3"><use href="#RR" x="188" y="1518"/></g><g id="n29-4"><use href="#WR" x="240" y="1518"/></g><g id="n29-5"><use href="#GR" x="292" y="1518"/></g><g id="n29-6"><use href="#GR" x="344" y="1518"/></g><g id="n29-7"><use href="#GR" x="396" y="1518"/></g><g id="n29-8"><use href="#GR" x="448" y="1518"/></g><g id="n29-9"><use href="#GR" x="500" y="1518"/></g><g id="n29-10"><use href="#GR" x="552" y="1518"/></g><g id="n29-11"><use href="#GR" x="604" y="1518"/></g><g id="n29-12"><use href="#GR" x="656" y="1518"/></g>
<g id="n30-1"><use href="#GL" x="84" y="1570"/></g><g id="n30-2"><use href="#GL" x="136" y="1570"/></g><g id="n30-3"><use href="#RL" x="188" y="1570"/></g><g id="n30-4"><use href="#GL" x="240" y="1570"/></g><g id="n30-5"><use href="#RL" x="292" y="1570"/></g><g id="n30-6"><use href="#GL" x="344" y="1570"/></g><g id="n30-7"><use href="#GL" x="396" y="1570"/></g><g id="n30-8"><use href="#GL" x="448" y="1570"/></g><g id="n30-9"><use href="#GL" x="500" y="1570"/></g><g id="n30-10"><use href="#GL" x="552" y="1570"/></g><g id="n30-11"><use href="#GL" x="604" y="1570"/></g><g id="n30-12"><use href="#GL" x="656" y="1570"/></g>
<g id="n31-1"><use href="#GR" x="84" y="1622"/></g><g id="n31-2"><use href="#GR" x="136" y="1622"/></g><g id="n31-3"><use href="#GR" x="188" y="1622"/></g><g id="n31-4"><use href="#GR" x="240" y="1622"/></g><g id="n31-5"><use href="#GR" x="292" y="1622"/></g><g id="n31-6"><use href="#GR" x="344" y="1622"/></g><g id="n31-7"><use href="#GR" x="396" y="1622"/></g><g id="n31-8"><use href="#GR" x="448" y="1622"/></g><g id="n31-9"><use href="#GR" x="500" y="1622"/></g><g id="n31-10"><use href="#GR" x="552" y="1622"/></g><g id="n31-11"><use href="#GR" x="604" y="1622"/></g><g id="n31-12"><use href="#GR" x="656" y="1622"/></g>
<g id="n32-1"><use href="#GL" x="84" y="1674"/></g><g id="n32-2"><use href="#RL" x="136" y="1674"/></g><g id="n32-3"><use href="#RL" x="188" y="1674"/></g><g id="n32-4"><use href="#GL" x="240" y="1674"/></g><g id="n32-5"><use href="#GL" x="292" y="1674"/></g><g id="n32-6"><use href="#RL" x="344" y="1674"/></g><g id="n32-7"><use href="#GL" x="396" y="1674"/></g><g id="n32-8"><use href="#WL" x="448" y="1674"/></g><g id="n32-9"><use href="#WL" x="500" y="1674"/></g><g id="n32-10"><use href="#GL" x="552" y="1674"/></g><g id="n32-11"><use href="#GL" x="604" y="1674"/></g><g id="n32-12"><use href="#GL" x="656" y="1674"/></g>
<g id="n33-1"><use href="#GR" x="84" y="1726"/></g><g id="n33-2"><use href="#GR" x="136" y="1726"/></g><g id="n33-3"><use href="#RR" x="188" y="1726"/></g><g id="n33-4"><use href="#GR" x="240" y="1726"/></g><g id="n33-5"><use href="#RR" x="292" y="1726"/></g><g id="n33-6"><use href="#RR" x="344" y="1726"/></g><g id="n33-7"><use href="#WR" x="396" y="1726"/></g><g id="n33-8"><use href="#GR" x="448" y="1726"/></g><g id="n33-9"><use href="#GR" x="500" y="1726"/></g><g id="n33-10"><use href="#WR" x="552" y="1726"/></g><g id="n33-11"><use href="#WR" x="604" y="1726"/></g><g id="n33-12"><use href="#GR" x="656" y="1726"/></g>
<g id="n34-1"><use href="#GL" x="84" y="1778"/></g><g id="n34-2"><use href="#GL" x="136" y="1778"/></g><g id="n34-3"><use href="#GL" x="188" y="1778"/></g><g id="n34-4"><use href="#RL" x="240" y="1778"/></g><g id="n34-5"><use href="#RL" x="292" y="1778"/></g><g id="n34-6"><use href="#RL" x="344" y="1778"/></g><g id="n34-7"><use href="#GL" x="396" y="1778"/></g><g id="n34-8"><use href="#WL" x="448" y="1778"/></g><g id="n34-9"><use href="#WL" x="500" y="1778"/></g><g id="n34-10"><use href="#GL" x="552" y="1778"/></g><g id="n34-11"><use href="#GL" x="604" y="1778"/></g><g id="n34-12"><use href="#GL" x="656" y="1778"/></g>
<g id="n35-1"><use href="#GR" x="84" y="1830"/></g><g id="n35-2"><use href="#RR" x="136" y="1830"/></g><g id="n35-3"><use href="#RR" x="188" y="1830"/></g><g id="n35-4"><use href="#RR" x="240" y="1830"/></g><g id="n35-5"><use href="#RR" x="292" y="1830"/></g><g id="n35-6"><use href="#WR" x="344" y="1830"/></g><g id="n35-7"><use href="#GR" x="396" y="1830"/></g><g id="n35-8"><use href="#GR" x="448" y="1830"/></g><g id="n35-9"><use href="#GR" x="500" y="1830"/></g><g id="n35-10"><use href="#WR" x="552" y="1830"/></g><g id="n35-11"><use href="#WR" x="604" y="1830"/></g><g id="n35-12"><use href="#GR" x="656" y="1830"/></g>
<g id="n36-1"><use href="#GL" x="84" y="1882"/></g><g id="n36-2"><use href="#GL" x="136" y="1882"/></g><g id="n36-3"><use href="#GL" x="188" y="1882"/></g><g id="n36-4"><use href="#RL" x="240" y="1882"/></g><g id="n36-5"><use href="#RL" x="292" y="1882"/></g><g id="n36-6"><use href="#RL" x="344" y="1882"/></g><g id="n36-7"><use href="#GL" x="396" y="1882"/></g><g id="n36-8"><use href="#GL" x="448" y="1882"/></g><g id="n36-9"><use href="#GL" x="500" y="1882"/></g><g id="n36-10"><use href="#GL" x="552" y="1882"/></g><g id="n36-11"><use href="#GL" x="604" y="1882"/></g><g id="n36-12"><use href="#GL" x="656" y="1882"/></g>
<g id="n37-1"><use href="#GR" x="84" y="1934"/></g><g id="n37-2"><use href="#RR" x="136" y="1934"/></g><g id="n37-3"><use href="#RR" x="188" y="1934"/></g><g id="n37-4"><use href="#RR" x="240" y="1934"/></g><g id="n37-5"><use href="#RR" x="292" y="1934"/></g><g id="n37-6"><use href="#RR" x="344" y="1934"/></g><g id="n37-7"><use href="#GR" x="396" y="1934"/></g><g id="n37-8"><use href="#GR" x="448" y="1934"/></g><g id="n37-9"><use href="#GR" x="500" y="1934"/></g><g id="n37-10"><use href="#GR" x="552" y="1934"/></g><g id="n37-11"><use href="#GR" x="604" y="1934"/></g><g id="n37-12"><use href="#GR" x="656" y="1934"/></g>
<g id="n38-1"><use href="#GL" x="84" y="1986"/></g><g id="n38-2"><use href="#GL" x="136" y="1986"/></g><g id="n38-3"><use href="#GL" x="188" y="1986"/></g><g id="n38-4"><use href="#RL" x="240" y="1986"/></g><g id="n38-5"><use href="#RL" x="292" y="1986"/></g><g id="n38-6"><use href="#RL" x="344" y="1986"/></g><g id="n38-7"><use href="#GL" x="396" y="1986"/></g><g id="n38-8"><use href="#GL" x="448" y="1986"/></g><g id="n38-9"><use href="#GL" x="500" y="1986"/></g><g id="n38-10"><use href="#GL" x="552" y="1986"/></g><g id="n38-11"><use href="#GL" x="604" y="1986"/></g><g id="n38-12"><use href="#GL" x="656" y="1986"/></g>
<g id="n39-1"><use href="#GR" x="84" y="2038"/></g><g id="n39-2"><use href="#GR" x="136" y="2038"/></g><g id="n39-3"><use href="#RR" x="188" y="2038"/></g><g id="n39-4"><use href="#RR" x="240" y="2038"/></g><g id="n39-5"><use href="#WR" x="292" y="2038"/></g><g id="n39-6"><use href="#GR" x="344" y="2038"/></g><g id="n39-7"><use href="#GR" x="396" y="2038"/></g><g id="n39-8"><use href="#GR" x="448" y="2038"/></g><g id="n39-9"><use href="#GR" x="500" y="2038"/></g><g id="n39-10"><use href="#GR" x="552" y="2038"/></g><g id="n39-11"><use href="#GR" x="604" y="2038"/></g><g id="n39-12"><use href="#GR" x="656" y="2038"/></g>
<g id="n40-1"><use href="#GL" x="84" y="2090"/></g><g id="n40-2"><use href="#RL" x="136" y="2090"/></g><g id="n40-3"><use href="#GL" x="188" y="2090"/></g><g id="n40-4"><use href="#RL" x="240" y="2090"/></g><g id="n40-5"><use href="#RL" x="292" y="2090"/></g><g id="n40-6"><use href="#GL" x="344" y="2090"/></g><g id="n40-7"><use href="#GL" x="396" y="2090"/></g><g id="n40-8"><use href="#GL" x="448" y="2090"/></g><g id="n40-9"><use href="#GL" x="500" y="2090"/></g><g id="n40-10"><use href="#GL" x="552" y="2090"/></g><g id="n40-11"><use href="#GL" x="604" y="2090"/></g><g id="n40-12"><use href="#GL" x="656" y="2090"/></g>
<g id="n41-1"><use href="#GR" x="84" y="2142"/></g><g id="n41-2"><use href="#GR" x="136" y="2142"/></g><g id="n41-3"><use href="#GR" x="188" y="2142"/></g><g id="n41-4"><use href="#RR" x="240" y="2142"/></g><g id="n41-5"><use href="#WR" x="292" y="2142"/></g><g id="n41-6"><use href="#GR" x="344" y="2142"/></g><g id="n41-7"><use href="#GR" x="396" y="2142"/></g><g id="n41-8"><use href="#GR" x="448" y="2142"/></g><g id="n41-9"><use href="#GR" x="500" y="2142"/></g><g id="n41-10"><use href="#GR" x="552" y="2142"/></g><g id="n41-11"><use href="#GR" x="604" y="2142"/></g><g id="n41-12"><use href="#GR" x="656" y="2142"/></g>
<g id="n42-1"><use href="#GL" x="84" y="2194"/></g><g id="n42-2"><use href="#GL" x="136" y="2194"/></g><g id="n42-3"><use href="#RL" x="188" y="2194"/></g><g id="n42-4"><use href="#WL" x="240" y="2194"/></g><g id="n42-5"><use href="#GL" x="292" y="2194"/></g><g id="n42-6"><use href="#GL" x="344" y="2194"/></g><g id="n42-7"><use href="#GL" x="396" y="2194"/></g><g id="n42-8"><use href="#GL" x="448" y="2194"/></g><g id="n42-9"><use href="#GL" x="500" y="2194"/></g><g id="n42-10"><use href="#GL" x="552" y="2194"/></g><g id="n42-11"><use href="#GL" x="604" y="2194"/></g><g id="n42-12"><use href="#GL" x="656" y="2194"/></g>
<g id="n43-1"><use href="#GR" x="84" y="2246"/></g><g id="n43-2"><use href="#GR" x="136" y="2246"/></g><g id="n43-3"><use href="#RR" x="188" y="2246"/></g><g id="n43-4"><use href="#RR" x="240" y="2246"/></g><g id="n43-5"><use href="#GR" x="292" y="2246"/></g><g id="n43-6"><use href="#GR" x="344" y="2246"/></g><g id="n43-7"><use href="#GR" x="396" y="2246"/></g><g id="n43-8"><use href="#GR" x="448" y="2246"/></g><g id="n43-9"><use href="#GR" x="500" y="2246"/></g><g id="n43-10"><use href="#GR" x="552" y="2246"/></g><g id="n43-11"><use href="#GR" x="604" y="2246"/></g><g id="n43-12"><use href="#GR" x="656" y="2246"/></g>
<g id="n44-1"><use href="#GL" x="84" y="2298"/></g><g id="n44-2"><use href="#GL" x="136" y="2298"/></g><g id="n44-3"><use href="#RL" x="188" y="2298"/></g><g id="n44-4"><use href="#WL" x="240" y="2298"/></g><g id="n44-5"><use href="#GL" x="292" y="2298"/></g><g id="n44-6"><use href="#GL" x="344" y="2298"/></g><g id="n44-7"><use href="#GL" x="396" y="2298"/></g><g id="n44-8"><use href="#GL" x="448" y="2298"/></g><g id="n44-9"><use href="#GL" x="500" y="2298"/></g><g id="n44-10"><use href="#GL" x="552" y="2298"/></g><g id="n44-11"><use href="#GL" x="604" y="2298"/></g><g id="n44-12"><use href="#GL" x="656" y="2298"/></g>
<g id="n45-1"><use href="#GR" x="84" y="2350"/></g><g id="n45-2"><use href="#GR" x="136" y="2350"/></g><g id="n45-3"><use href="#RR" x="188" y="2350"/></g><g id="n45-4"><use href="#GR" x="240" y="2350"/></g><g id="n45-5"><use href="#RR" x="292" y="2350"/></g><g id="n45-6"><use href="#GR" x="344" y="2350"/></g><g id="n45-7"><use href="#GR" x="396" y="2350"/></g><g id="n45-8"><use href="#GR" x="448" y="2350"/></g><g id="n45-9"><use href="#GR" x="500" y="2350"/></g><g id="n45-10"><use href="#GR" x="552" y="2350"/></g><g id="n45-11"><use href="#GR" x="604" y="2350"/></g><g id="n45-12"><use href="#GR" x="656" y="2350"/></g>
<g id="n46-1"><use href="#GL" x="84" y="2402"/></g><g id="n46-2"><use href="#GL" x="136" y="2402"/></g><g id="n46-3"><use href="#GL" x="188" y="2402"/></g><g id="n46-4"><use href="#GL" x="240" y="2402"/></g><g id="n46-5"><use href="#GL" x="292" y="2402"/></g><g id="n46-6"><use href="#GL" x="344" y="2402"/></g><g id="n46-7"><use href="#GL" x="396" y="2402"/></g><g id="n46-8"><use href="#GL" x="448" y="2402"/></g><g id="n46-9"><use href="#GL" x="500" y="2402"/></g><g id="n46-10"><use href="#GL" x="552" y="2402"/></g><g id="n46-11"><use href="#GL" x="604" y="2402"/></g><g id="n46-12"><use href="#GL" x="656" y="2402"/></g>
</g>
<text id="watermark" x="370" y="1237" text-anchor="middle" font-family="Liberation Sans, Arial, sans-serif" font-weight="bold" font-size="14" textLength="155" lengthAdjust="spacingAndGlyphs" fill="#3c3c3c" stroke="#fff" stroke-width="2.5" paint-order="stroke">BRACELETBOOK.COM</text>
</svg>
